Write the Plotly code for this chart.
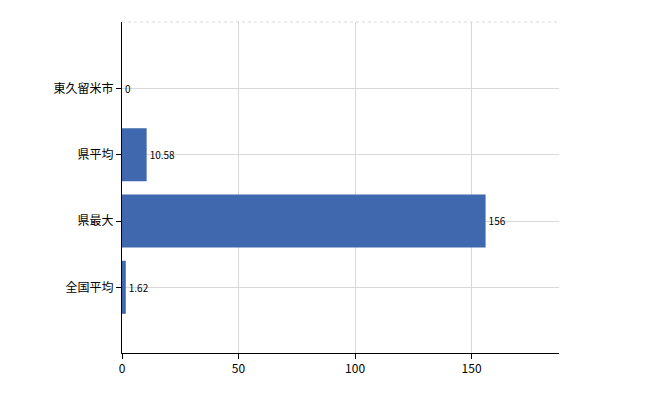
import plotly.graph_objects as go

categories = ["東久留米市", "県平均", "県最大", "全国平均"]
values = [0, 10.58, 156, 1.62]
labels = ["0", "10.58", "156", "1.62"]

fig = go.Figure(go.Bar(
    y=categories, x=values, orientation="h", width=0.8,
    marker=dict(color="#3F68AE", line=dict(width=0)),
    text=labels, textposition="outside", cliponaxis=False,
    textfont=dict(size=10, color="#000", family="Noto Sans CJK JP"),
))
fig.update_layout(
    width=650, height=400, margin=dict(l=114, r=99, t=14, b=55),
    plot_bgcolor="white", paper_bgcolor="white", showlegend=False,
    font=dict(family="Noto Sans CJK JP", size=12, color="#000"),
    xaxis=dict(range=[0, 187.5], tickvals=[0, 50, 100, 150], showgrid=True,
               gridcolor="#d8d8d8", showline=True, linecolor="#000",
               ticks="outside", ticklen=5, tickcolor="#000", zeroline=False),
    yaxis=dict(categoryorder="array", categoryarray=categories, autorange=False,
               range=[3.99, -1], showgrid=True, gridcolor="#d8d8d8",
               showline=True, linecolor="#000", ticks="outside", ticklen=5,
               tickcolor="#000", zeroline=False),
    shapes=[dict(type="line", xref="paper", yref="paper", x0=0, x1=1, y0=1, y1=1,
                 line=dict(color="#d8d8d8", width=1, dash="dot"))],
)
fig.write_html("out.html")
